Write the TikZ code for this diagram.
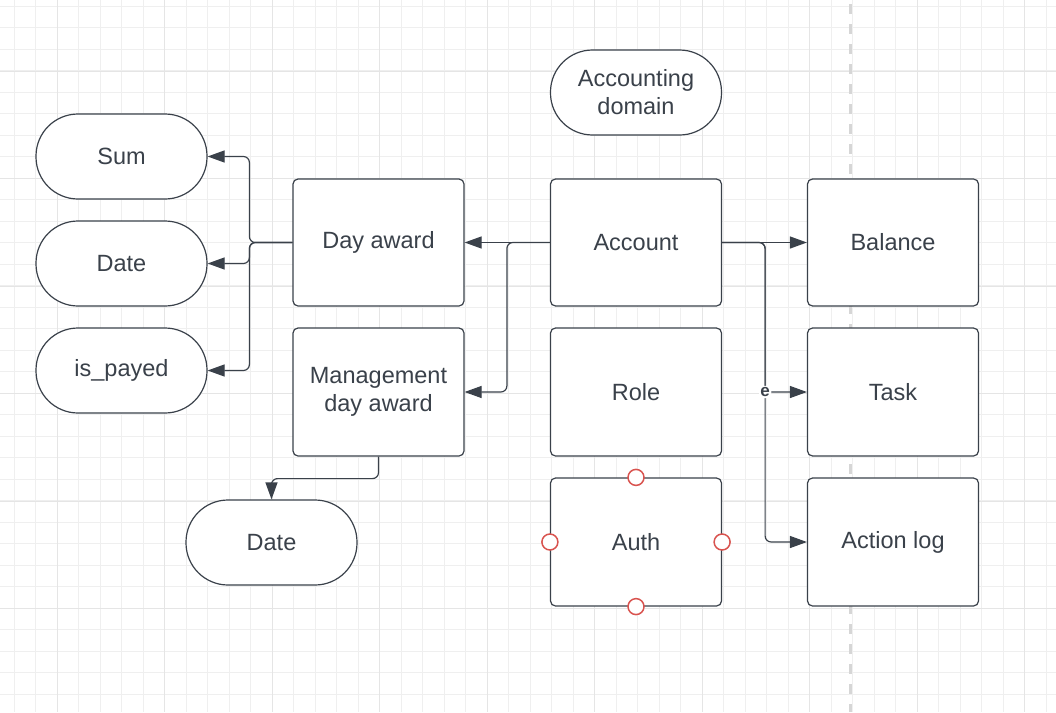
\documentclass[tikz,border=0pt]{standalone}
\usepackage{fontspec}
\setmainfont{Liberation Sans}
\usepackage{xcolor}
\definecolor{linec}{HTML}{3A414A}
\definecolor{textc}{HTML}{3A414A}
\definecolor{gridminor}{HTML}{EFEFEF}
\definecolor{gridmajor}{HTML}{E5E5E5}
\definecolor{sepline}{HTML}{D6D6D6}
\definecolor{anchorred}{HTML}{D9534F}
\usetikzlibrary{arrows.meta}
\usetikzlibrary{positioning}
\usetikzlibrary{calc}

\begin{document}
\begin{tikzpicture}[x=1pt, y=-1pt,
	box/.style={draw=linec, line width=1.2pt, rounded corners=5pt, fill=white, text=textc,
		minimum width=171pt, minimum height=127pt, inner sep=0pt, align=center,
		font=\fontsize{23.5}{28}\selectfont},
	pill/.style={box, rounded corners=42pt, minimum height=85pt},
	link/.style={draw=linec, line width=1.2pt, rounded corners=6pt,
		-{Triangle[length=17pt, width=12pt]}},
	handle/.style={circle, draw=anchorred, line width=1.5pt, fill=white, minimum size=16pt, inner sep=0pt}]
	\fill[white] (0,0) rectangle (1056,712);
	\useasboundingbox (0,0) rectangle (1056,712);
	
	% grid
	\foreach \i in {0,...,48} \draw[gridminor, line width=1pt] ({14.3+21.5*\i},0) -- ++(0,712);
	\foreach \i in {0,...,33} \draw[gridminor, line width=1pt] (0,{6+21.5*\i}) -- ++(1056,0);
	\foreach \i in {0,...,9} \draw[gridmajor, line width=1pt] ({57+107.5*\i},0) -- ++(0,712);
	\foreach \i in {0,...,6} \draw[gridmajor, line width=1pt] (0,{71+107.5*\i}) -- ++(1056,0);
	
	% page separator
	\draw[sepline, line width=3pt, dash pattern=on 10pt off 10pt, dash phase=-4pt] (850,0) -- (850,712);
	
	% title
	\node[pill] (domain) at (636,92.5) {Accounting\\domain};
	
	% attributes of day award
	\node[pill] (sum) at (121.5,156.5) {Sum};
	\node[pill] (date) at (121.5,263.5) {Date};
	\node[pill] (payed) at (121.5,370.5) {is\_payed};
	
	% awards
	\node[box] (day) at (378.5,242.5) {Day award};
	\node[box, minimum height=128pt] (mgmt) at (378.5,392) {Management\\day award};
	\node[pill] (mgmtdate) at (271.5,542.5) {Date};
	
	% account column
	\node[box] (account) at (636,242.5) {Account};
	\node[box, minimum height=128pt] (role) at (636,392) {Role};
	\node[box, minimum height=128pt] (auth) at (636,542) {Auth};
	
	% right column
	\node[box] (balance) at (893,242.5) {Balance};
	\node[box, minimum height=128pt] (task) at (893,392) {Task};
	\node[box, minimum height=128pt] (actionlog) at (893,542) {Action log};
	
	% connectors
	\draw[link] (day.west) -- ++(-43,0) |- (sum.east);
	\draw[link] (day.west) -- ++(-43,0) |- (date.east);
	\draw[link] (day.west) -- ++(-43,0) |- (payed.east);
	\draw[link] (account.west) -- (day.east);
	\draw[link] (account.west) -- ++(-43,0) |- (mgmt.east);
	\draw[link] (mgmt.south) -- ++(0,22) -| (mgmtdate.north);
	\draw[link] (account.east) -- (balance.west);
	\draw[link] (account.east) -- ++(43,0) |- (actionlog.west);
	\draw[link] (account.east) -- ++(43,0) |- (task.west)
		node[pos=0.5, fill=white, text=textc, inner sep=1.5pt, font=\bfseries\fontsize{17}{18}\selectfont] {e};
	
	% selection handles
	\foreach \a in {north,south,east,west}
		\node[handle] at (auth.\a) {};
\end{tikzpicture}
\end{document}
